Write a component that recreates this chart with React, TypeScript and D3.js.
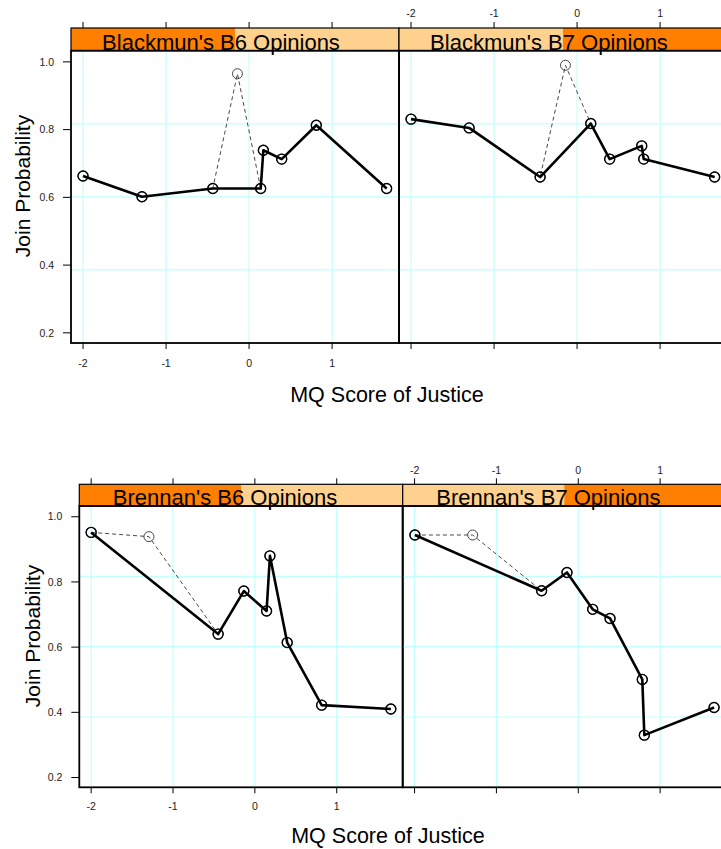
import React, { useEffect, useRef } from 'react';
import * as d3 from 'd3';

// axis ticks and domains shared by every panel
const xTicks = [-2, -1, 0, 1];
const yTicks = [0.2, 0.4, 0.6, 0.8, 1.0];
const xDomain = [-2.145, 1.806];
const yDomain = [0.17, 1.033];

// MQ scores of the nine justices and join probabilities (solid = thick line, dashed = thin line)
const blackmunB6Score = [-2.0, -1.29, -0.437, -0.14, 0.14, 0.172, 0.393, 0.81, 1.657];
const blackmunB6Solid = [0.663, 0.602, 0.626, null, 0.626, 0.739, 0.713, 0.813, 0.626];
const blackmunB6Dashed = [0.663, 0.602, 0.626, 0.965, 0.626, 0.739, 0.713, 0.813, 0.626];

const blackmunB7Score = [-2.0, -1.3, -0.445, -0.14, 0.165, 0.393, 0.779, 0.803, 1.657];
const blackmunB7Solid = [0.831, 0.805, 0.66, null, 0.818, 0.713, 0.752, 0.713, 0.66];
const blackmunB7Dashed = [0.831, 0.805, 0.66, 0.99, 0.818, 0.713, 0.752, 0.713, 0.66];

const brennanB6Score = [-2.0, -1.294, -0.449, -0.135, 0.143, 0.184, 0.395, 0.816, 1.661];
const brennanB6Solid = [0.952, null, 0.64, 0.772, 0.711, 0.88, 0.614, 0.422, 0.41];
const brennanB6Dashed = [0.952, 0.939, 0.64, 0.772, 0.711, 0.88, 0.614, 0.422, 0.41];

const brennanB7Score = [-1.996, -1.29, -0.448, -0.138, 0.176, 0.388, 0.782, 0.807, 1.659];
const brennanB7Solid = [0.944, null, 0.773, 0.829, 0.716, 0.688, 0.501, 0.33, 0.415];
const brennanB7Dashed = [0.944, 0.944, 0.773, 0.829, 0.716, 0.688, 0.501, 0.33, 0.415];

const FONT = '"Liberation Sans", Arial, Helvetica, sans-serif';
const DARK = '#FF7F00';
const LIGHT = '#FFD18F';
const GRID = '#C2FFFF';

const rows = [
  {
    left: 71, panelW: 328, stripTop: 28, panelTop: 50.7, panelBottom: 343,
    yLabelX: 29.5, yLabelY: 186, xLabelX: 387, xLabelY: 402,
    topTickY: 13, bottomTickY: 363, shift: -14,
    panels: [
      { title: "Blackmun's B6 Opinions", dark: 'left', score: blackmunB6Score, solid: blackmunB6Solid, dashed: blackmunB6Dashed },
      { title: "Blackmun's B7 Opinions", dark: 'right', score: blackmunB7Score, solid: blackmunB7Solid, dashed: blackmunB7Dashed }
    ]
  },
  {
    left: 79.3, panelW: 323.4, stripTop: 484.3, panelTop: 506, panelBottom: 787.3,
    yLabelX: 39.5, yLabelY: 636, xLabelX: 388, xLabelY: 843,
    topTickY: 470.7, bottomTickY: 806.7, shift: -16,
    panels: [
      { title: "Brennan's B6 Opinions", dark: 'left', score: brennanB6Score, solid: brennanB6Solid, dashed: brennanB6Dashed },
      { title: "Brennan's B7 Opinions", dark: 'right', score: brennanB7Score, solid: brennanB7Solid, dashed: brennanB7Dashed }
    ]
  }
];

const App = () => {
  const ref = useRef<SVGSVGElement | null>(null);

  useEffect(() => {
    const svg = d3.select(ref.current);
    svg.selectAll('*').remove();

    rows.forEach((row) => {
      const y = d3.scaleLinear().domain(yDomain).range([row.panelBottom, row.panelTop]);
      const panelH = row.panelBottom - row.panelTop;

      row.panels.forEach((p, pi) => {
        const x0 = row.left + pi * row.panelW;
        const x = d3.scaleLinear().domain(xDomain).range([x0, x0 + row.panelW]);
        const g = svg.append('g');

        // grid
        xTicks.forEach((t) => {
          g.append('line').attr('x1', x(t)).attr('x2', x(t))
            .attr('y1', row.panelTop).attr('y2', row.panelBottom)
            .attr('stroke', GRID).attr('stroke-width', 1.2);
        });
        d3.range(1, 4).forEach((i) => {
          const yy = row.panelTop + (panelH * i) / 4;
          g.append('line').attr('x1', x0).attr('x2', x0 + row.panelW)
            .attr('y1', yy).attr('y2', yy)
            .attr('stroke', GRID).attr('stroke-width', 1.2);
        });

        const dashedPts = p.score.map((s, i) => [s, p.dashed[i]]).filter((d) => d[1] != null) as [number, number][];
        const solidPts = p.score.map((s, i) => [s, p.solid[i]]).filter((d) => d[1] != null) as [number, number][];
        const line = d3.line<[number, number]>().x((d) => x(d[0])).y((d) => y(d[1]));

        g.append('path').attr('d', line(dashedPts)).attr('fill', 'none')
          .attr('stroke', '#333').attr('stroke-width', 0.9).attr('stroke-dasharray', '4,3');
        g.selectAll('.cd').data(dashedPts).enter().append('circle')
          .attr('cx', (d) => x(d[0])).attr('cy', (d) => y(d[1])).attr('r', 5)
          .attr('fill', 'none').attr('stroke', '#333').attr('stroke-width', 0.9);

        g.append('path').attr('d', line(solidPts)).attr('fill', 'none')
          .attr('stroke', '#000').attr('stroke-width', 2.6).attr('stroke-linejoin', 'round');
        g.selectAll('.cs').data(solidPts).enter().append('circle')
          .attr('cx', (d) => x(d[0])).attr('cy', (d) => y(d[1])).attr('r', 5)
          .attr('fill', 'none').attr('stroke', '#000').attr('stroke-width', 1.4);

        // strip
        const half = row.panelW / 2;
        g.append('rect').attr('x', x0).attr('y', row.stripTop).attr('width', row.panelW)
          .attr('height', row.panelTop - row.stripTop).attr('fill', LIGHT);
        g.append('rect').attr('x', p.dark === 'left' ? x0 : x0 + half).attr('y', row.stripTop)
          .attr('width', half).attr('height', row.panelTop - row.stripTop).attr('fill', DARK);
        g.append('rect').attr('x', x0).attr('y', row.stripTop).attr('width', row.panelW)
          .attr('height', row.panelTop - row.stripTop).attr('fill', 'none')
          .attr('stroke', '#000').attr('stroke-width', 1.2);
        g.append('text').attr('x', x0 + half + row.shift).attr('y', row.panelTop - 1)
          .attr('text-anchor', 'middle').style('font-family', FONT).style('font-size', '22px')
          .attr('fill', '#000').text(p.title);

        // panel border
        g.append('rect').attr('x', x0).attr('y', row.panelTop).attr('width', row.panelW)
          .attr('height', panelH).attr('fill', 'none').attr('stroke', '#000').attr('stroke-width', 1.8);

        // x ticks top and bottom
        xTicks.forEach((t) => {
          g.append('line').attr('x1', x(t)).attr('x2', x(t))
            .attr('y1', row.stripTop - 6).attr('y2', row.stripTop)
            .attr('stroke', '#000').attr('stroke-width', 1);
          g.append('line').attr('x1', x(t)).attr('x2', x(t))
            .attr('y1', row.panelBottom).attr('y2', row.panelBottom + 6)
            .attr('stroke', '#000').attr('stroke-width', 1);
          const labelY = pi === 0 ? row.bottomTickY : row.topTickY;
          g.append('text').attr('x', x(t)).attr('y', labelY).attr('dy', '0.35em')
            .attr('text-anchor', 'middle').style('font-family', FONT).style('font-size', '10.5px')
            .attr('fill', '#222').text(String(t));
        });

        if (pi === 0) {
          yTicks.forEach((t) => {
            g.append('line').attr('x1', x0 - 8).attr('x2', x0).attr('y1', y(t)).attr('y2', y(t))
              .attr('stroke', '#000').attr('stroke-width', 1);
            g.append('text').attr('x', x0 - 17).attr('y', y(t)).attr('dy', '0.35em')
              .attr('text-anchor', 'end').style('font-family', FONT).style('font-size', '10.5px')
              .attr('fill', '#222').text(t.toFixed(1));
          });
        }
      });

      // axis titles
      svg.append('text')
        .attr('transform', `translate(${row.yLabelX},${row.yLabelY}) rotate(-90)`)
        .attr('text-anchor', 'middle').style('font-family', FONT).style('font-size', '21px')
        .attr('fill', '#000').text('Join Probability');
      svg.append('text').attr('x', row.xLabelX).attr('y', row.xLabelY)
        .attr('text-anchor', 'middle').style('font-family', FONT).style('font-size', '21.5px')
        .attr('fill', '#000').text('MQ Score of Justice');
    });
  }, []);

  return (
    <svg ref={ref} width={721} height={849}
      style={{ position: 'absolute', left: 0, top: 0, background: '#fff' }} />
  );
};

export default App;
